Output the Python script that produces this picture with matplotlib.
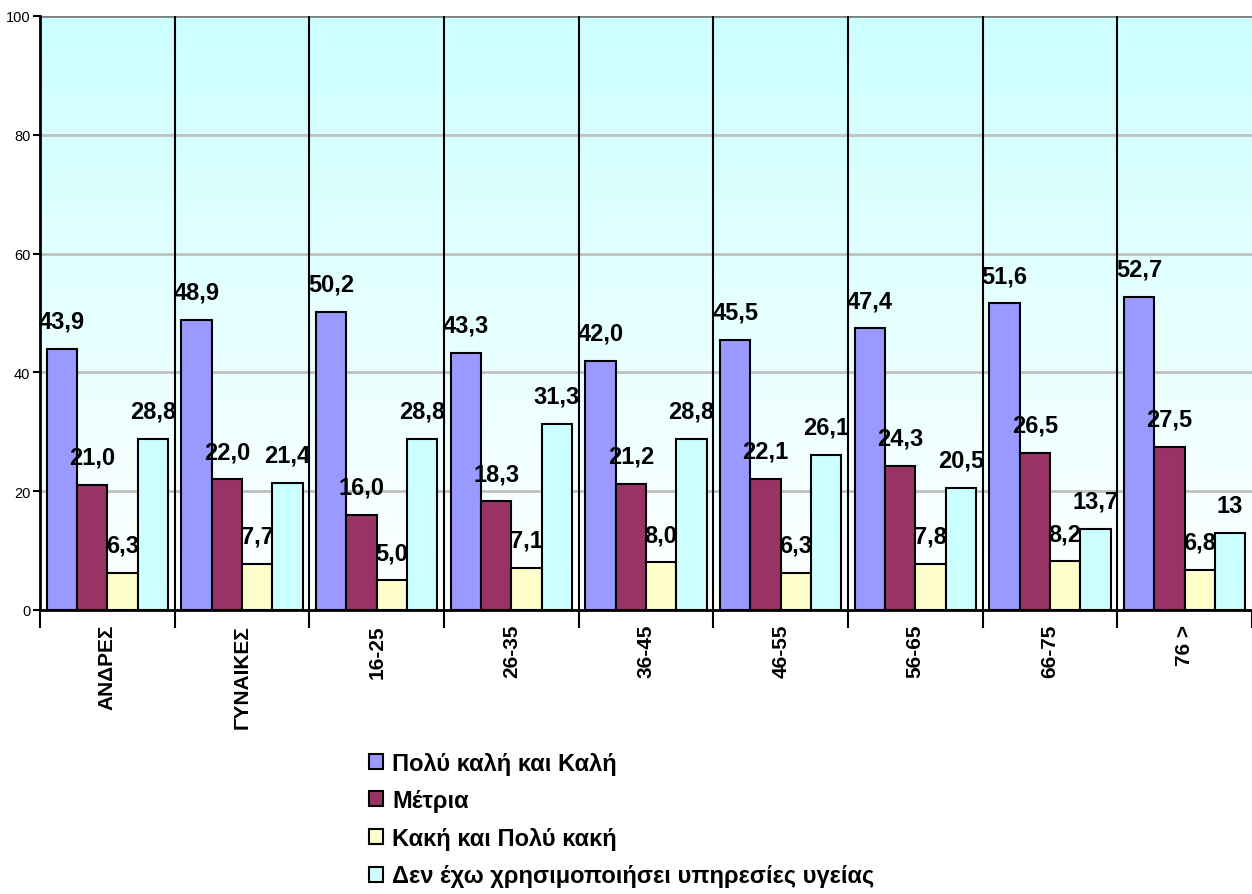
import numpy as np
from matplotlib import pyplot as plt
from matplotlib.patches import Patch
from matplotlib.colors import LinearSegmentedColormap

plt.rcParams['font.family'] = ['Liberation Sans', 'DejaVu Sans']

categories = ["ΑΝΔΡΕΣ", "ΓΥΝΑΙΚΕΣ", "16-25", "26-35", "36-45",
              "46-55", "56-65", "66-75", "76 >"]
series_names = ["Πολύ καλή και Καλή", "Μέτρια", "Κακή και Πολύ κακή",
                "Δεν έχω χρησιμοποιήσει υπηρεσίες υγείας"]
very_good = [43.9, 48.9, 50.2, 43.3, 42.0, 45.5, 47.4, 51.6, 52.7]
medium = [21.0, 22.0, 16.0, 18.3, 21.2, 22.1, 24.3, 26.5, 27.5]
bad = [6.3, 7.7, 5.0, 7.1, 8.0, 6.3, 7.8, 8.2, 6.8]
no_use = [28.8, 21.4, 28.8, 31.3, 28.8, 26.1, 20.5, 13.7, 13]
colors = ["#9999FF", "#993366", "#FFFFCC", "#CCFFFF"]


def fmt(v):
    if isinstance(v, int):
        return str(v)
    return f"{v:.1f}".replace(".", ",")


fig = plt.figure(figsize=(12.52, 8.95), dpi=100)
ax = fig.add_axes([40 / 1252, 1 - 611 / 895, 1 - 40 / 1252, (611 - 17) / 895])

n = len(categories)
ax.set_xlim(-0.5, n - 0.5)
ax.set_ylim(0, 100)

# background gradient cyan -> white
cmap = LinearSegmentedColormap.from_list("bg", ["#FFFFFF", "#CCFFFF"])
grad = np.linspace(0, 1, 256).reshape(-1, 1)
ax.imshow(grad, extent=(-0.5, n - 0.5, 0, 100), origin="lower",
          aspect="auto", cmap=cmap, zorder=0)

for y in [20, 40, 60, 80]:
    ax.axhline(y, color="#C0C0C0", lw=2, zorder=1)
ax.axhline(100, color="#808080", lw=2, zorder=1)

for b in np.arange(0.5, n - 0.5, 1):
    ax.axvline(b, color="black", lw=1.5, zorder=4)

x = np.arange(n)
w = 0.225
all_series = [very_good, medium, bad, no_use]
for i, vals in enumerate(all_series):
    xs = x + (i - 1.5) * w
    ax.bar(xs, vals, w, color=colors[i], edgecolor="black", lw=1.5, zorder=3)
    for xv, v in zip(xs, vals):
        ax.annotate(fmt(v), (xv, v), xytext=(0, 20), textcoords="offset points",
                    ha="center", va="center", fontsize=17, fontweight="bold",
                    zorder=5)

ax.set_xticks(x)
ax.set_xticklabels(categories, rotation=90, fontsize=15, fontweight="bold",
                   va="top", ha="center")
ax.tick_params(axis="x", length=0, pad=10)
ax.set_xticks(np.arange(-0.5, n, 1), minor=True)
ax.tick_params(axis="x", which="minor", length=13, width=1.5, color="black")

ax.set_yticks([0, 20, 40, 60, 80, 100])
ax.tick_params(axis="y", length=5, width=1.5, labelsize=10.5, pad=2)

for s in ["top", "right"]:
    ax.spines[s].set_visible(False)
ax.spines["left"].set_linewidth(2)
ax.spines["bottom"].set_linewidth(2)
ax.spines["left"].set_zorder(6)
ax.spines["bottom"].set_zorder(6)

handles = [Patch(facecolor=c, edgecolor="black", lw=1.5) for c in colors]
fig.legend(handles, series_names, loc="upper left",
           bbox_to_anchor=(352 / 1252, 1 - 736 / 895), frameon=False,
           prop={"size": 17, "weight": "bold"}, handlelength=0.6,
           handleheight=0.6, handletextpad=0.4, labelspacing=0.62,
           borderpad=0.2)

fig.savefig("out.png", dpi=100)
